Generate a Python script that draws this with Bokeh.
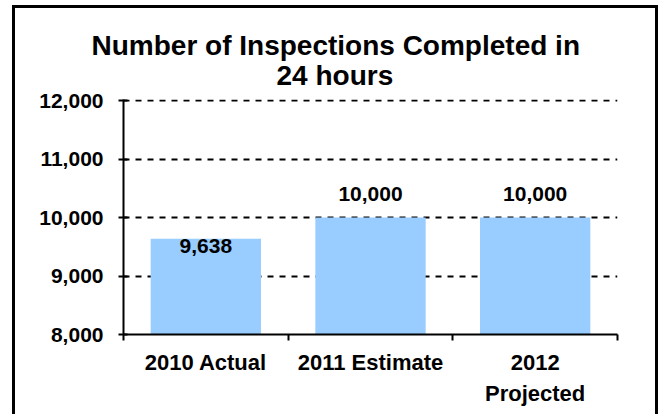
from bokeh.plotting import figure
from bokeh.models import Range1d, FixedTicker, NumeralTickFormatter, ColumnDataSource, Title
from bokeh.core.properties import value
from bokeh.embed import file_html
from bokeh.resources import INLINE

# ---- data ----
categories = ["2010 Actual", "2011 Estimate", "2012\nProjected"]
inspections = [9638, 10000, 10000]
label_texts = ["9,638", "10,000", "10,000"]
y_ticks = [8000, 9000, 10000, 11000, 12000]
title_lines = ["Number of Inspections Completed in", "24 hours"]

FONT = "Liberation Sans"

p = figure(width=646, height=409, output_backend="svg", toolbar_location=None,
           x_range=Range1d(0, len(categories)), y_range=Range1d(y_ticks[0], y_ticks[-1] + 20),
           min_border_left=108, min_border_right=44, min_border_top=91, min_border_bottom=83)
p.styles = {"border-top": "3px solid black", "border-left": "3px solid black",
            "border-right": "3px solid black", "position": "relative",
            "left": "12px", "top": "5px"}
p.outline_line_color = None
p.background_fill_color = "white"
p.border_fill_color = "white"

# title: two centred lines (line 2 added first = closest to the plot)
p.title.visible = False
for txt, off, so in [(title_lines[1], 153, 18), (title_lines[0], -32, -24)]:
    p.add_layout(Title(text=txt, align="left", offset=off, standoff=so,
                       text_font=FONT, text_font_style="bold", text_font_size="28px",
                       text_color="black"), "above")

centers = [i + 0.5 for i in range(len(categories))]
src = ColumnDataSource(dict(x=centers, top=inspections, txt=label_texts,
                            dy=[7, -24, -24]))
p.vbar(x="x", top="top", bottom=y_ticks[0], width=0.67, source=src,
       fill_color="#99CCFF", line_color=None)
p.text(x="x", y="top", text="txt", y_offset="dy", source=src,
       text_align="center", text_baseline="middle",
       text_font=value(FONT), text_font_style="bold", text_font_size="21px",
       text_color="black")

# x axis: labels at centres, separator ticks at boundaries (minor)
xa = p.xaxis[0]
xa.ticker = FixedTicker(ticks=centers, minor_ticks=list(range(len(categories) + 1)))
xa.major_label_overrides = {c: lab for c, lab in zip(centers, categories)}
xa.major_tick_out = 0
xa.major_tick_in = 0
xa.minor_tick_out = 6
xa.minor_tick_in = 0
xa.minor_tick_line_width = 2
xa.minor_tick_line_color = "black"
xa.axis_line_width = 2
xa.axis_line_color = "black"
xa.major_label_standoff = 9
xa.major_label_text_font = FONT
xa.major_label_text_font_style = "bold"
xa.major_label_text_font_size = "22px"
xa.major_label_text_color = "black"
xa.major_label_text_line_height = 1.25

ya = p.yaxis[0]
ya.ticker = FixedTicker(ticks=y_ticks)
ya.formatter = NumeralTickFormatter(format="0,0")
ya.major_tick_out = 5
ya.major_tick_in = 4
ya.major_tick_line_width = 2
ya.minor_tick_line_color = None
ya.axis_line_width = 2
ya.axis_line_color = "black"
ya.major_label_standoff = 15
ya.major_label_text_font = FONT
ya.major_label_text_font_style = "bold"
ya.major_label_text_font_size = "21px"
ya.major_label_text_color = "black"

p.xgrid.grid_line_color = None
p.ygrid.ticker = FixedTicker(ticks=y_ticks[1:])
p.ygrid.grid_line_color = "black"
p.ygrid.grid_line_width = 2
p.ygrid.grid_line_dash = "6 6"

open("out.html", "w").write(file_html(p, INLINE))
